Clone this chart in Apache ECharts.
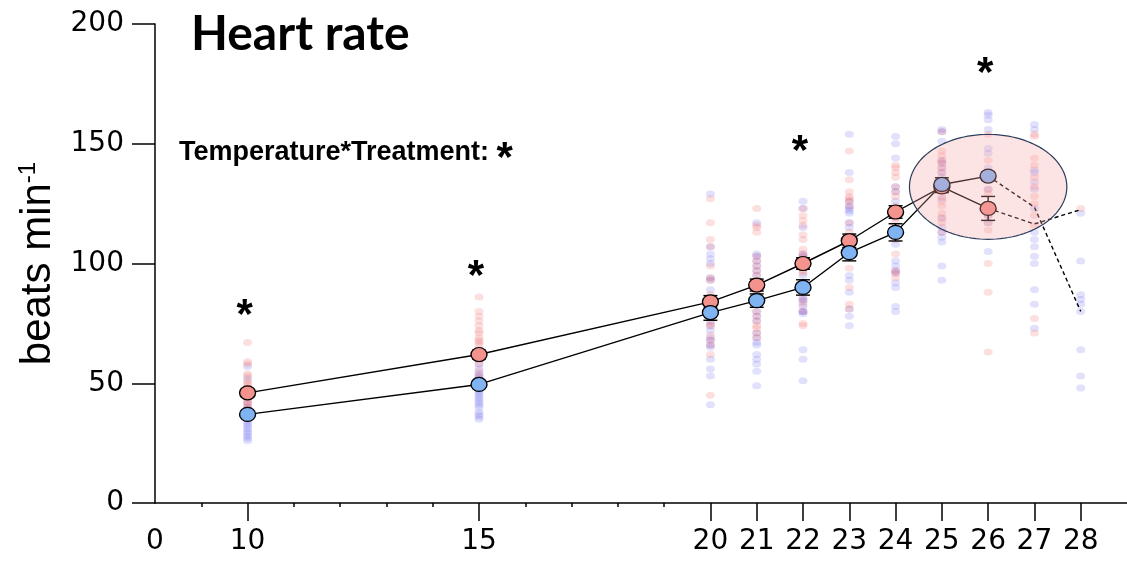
<!DOCTYPE html>
<html><head><meta charset="utf-8">
<script src="https://cdn.jsdelivr.net/npm/echarts@6/dist/echarts.min.js"></script>
<style>html,body{margin:0;padding:0;background:#fff}#c{width:1127px;height:562px}</style>
</head><body><div id="c"></div>
<script>
const temps = [10,15,20,21,22,23,24,25,26];
const redMean = [46,62,84,91,100,109.5,121.5,132,123];
const redSE = [1.6,1.8,2.6,2.5,2.4,2.8,2.6,2.4,5];
const blueMean = [37,49.5,79.5,84.5,90,104.5,113,133,136.5];
const blueSE = [1.3,1.5,3.2,2.8,3.2,3.4,3.6,2.8,1.8];
const dashTemps = [26,27,28];
const redDash = [123,116.5,122.5];
const blueDash = [136.5,123.5,80];
const pointTemps = [10,15,20,21,22,23,24,25,26,27,28];
const redPoints = [
  [67,59,58,54,53,51,50,49,48,47,45,44,43,42,41,40,39],
  [86,80,78,76,74,72,71,69,68,67,66,64,62,60,58,55,53,50],
  [127,117,110,107,99,94,93,87,84,80,78,75,74,70,68,66,62,45],
  [123,116,115,113,103,101,99,97,95,88,86,80,78,76,74,73,71,69],
  [123,120,118,116,112,110,106,104,103,97,96,92,88,85,83,80,75,74],
  [147,135,130,128,127,126,124,117,113,110,105,98,90,83,81],
  [141,140,138,136,132,130,128,124,119,117,110,104,97,96,94],
  [155,147,145,143,142,140,138,128,126,124,121,119,117,113],
  [154,143,131,129,124,120,117,114,100,88,63],
  [154,153,144,141,136,132,128,125,120,116,77,71],
  [123]
];
const bluePoints = [
  [57,52,45,42,40,39,38,37,36,35,34,33,32,31,30,29,28,27,26],
  [62,58,56,54,53,52,51,50,49,48,47,46,45,44,43,42,41,40,38,37,36,35],
  [129,107,104,102,100,94,93,89,84,80,76,74,72,69,68,66,65,60,56,53,41],
  [117,104,103,101,99,97,95,90,84,80,78,76,71,69,67,66,62,60,58,55,49],
  [126,123,115,104,103,100,95,92,90,86,85,84,82,80,80,79,64,60,51],
  [154,138,126,124,123,122,121,117,115,108,105,95,93,88,81,78,74],
  [153,150,144,132,130,126,120,115,112,108,101,99,97,96,92,90,82,80],
  [156,155,151,143,142,140,138,136,127,119,115,113,111,109,99,93],
  [163,162,160,156,148,146,140,136,131,120,117,105],
  [158,156,139,138,134,131,123,113,110,107,103,100,89,83,73],
  [121,101,87,85,83,80,64,53,48]
];
const starTemps = [10,15,22,26];
const starValues = [81.5,98,150,182.5];
const ellipseCenter = [26,132];
const ellipseRadius = [1.7,21.9];
const xLabelValues = [8,10,15,20,21,22,23,24,25,26,27,28];
const xLabelTexts = ['0','10','15','20','21','22','23','24','25','26','27','28'];
const xMajorTicks = [10,15,20,21,22,23,24,25,26,27,28];
const xMinorTicks = [9,11,12,13,14,16,17,18,19];
const yMin = 0, yMax = 200, yStep = 50;

const chart = echarts.init(document.getElementById('c'), null, {renderer:'canvas'});

function flatPts(arr){
  const out = [];
  arr.forEach((col,i)=>col.forEach(v=>out.push([pointTemps[i], v])));
  return out;
}
function errData(mean, se){ return temps.map((t,i)=>[t, mean[i]-se[i], mean[i]+se[i]]); }
function errRender(params, api){
  const x = api.value(0);
  const lo = api.coord([x, api.value(1)]);
  const hi = api.coord([x, api.value(2)]);
  const w = 7;
  const st = {stroke:'#000', lineWidth:1.4};
  return {type:'group', children:[
    {type:'line', shape:{x1:lo[0],y1:lo[1],x2:hi[0],y2:hi[1]}, style:st},
    {type:'line', shape:{x1:lo[0]-w,y1:lo[1],x2:lo[0]+w,y2:lo[1]}, style:st},
    {type:'line', shape:{x1:hi[0]-w,y1:hi[1],x2:hi[0]+w,y2:hi[1]}, style:st}
  ]};
}
const FONT = 'DejaVu Sans';

chart.setOption({
  animation:false,
  backgroundColor:'#fff',
  title:{text:'Heart rate', left:186, top:6, textStyle:{fontFamily:'Lato', fontWeight:'bold', fontSize:48, color:'#000'}},
  graphic:[{type:'text', left:179, top:138, style:{
    text:'{t|Temperature*Treatment: }{s|*}',
    rich:{t:{fontFamily:'Liberation Sans', fontWeight:'bold', fontSize:27, fill:'#000'},
          s:{fontFamily:'Liberation Sans', fontWeight:'bold', fontSize:42, fill:'#000', padding:[13,0,0,0]}}
  }}],
  grid:{left:155, right:0, top:24, bottom:59, containLabel:false},
  xAxis:[{
    type:'value', min:8, max:29, interval:1, position:'bottom',
    axisLine:{show:true, lineStyle:{color:'#000', width:1.5}},
    axisTick:{show:true, customValues:xMajorTicks, length:18, lineStyle:{color:'#000', width:1.5}},
    axisLabel:{show:true, customValues:xLabelValues, margin:25, fontFamily:FONT, fontSize:28, color:'#000',
      formatter:v=>xLabelTexts[xLabelValues.indexOf(v)]},
    splitLine:{show:false}
  },{
    type:'value', min:8, max:29, interval:1, position:'bottom',
    axisLine:{show:false},
    axisTick:{show:true, customValues:xMinorTicks, length:4, lineStyle:{color:'#000', width:1.5}},
    axisLabel:{show:false}, splitLine:{show:false}
  }],
  yAxis:{
    type:'value', min:yMin, max:yMax, interval:yStep,
    name:'{a|beats min}{s|-1}', nameLocation:'middle', nameGap:93, nameRotate:90,
    nameTextStyle:{rich:{a:{fontFamily:'Liberation Sans', fontSize:42, color:'#000'},
                         s:{fontFamily:'Liberation Sans', fontSize:24, color:'#000', padding:[0,0,20,0]}}},
    axisLine:{show:true, lineStyle:{color:'#000', width:1.5}},
    axisTick:{show:true, length:23, lineStyle:{color:'#000', width:1.5}},
    axisLabel:{margin:31, fontFamily:FONT, fontSize:28, color:'#000'},
    splitLine:{show:false}
  },
  series:[
    {type:'scatter', name:'bluePts', data:flatPts(bluePoints), symbol:'circle', symbolSize:[9,7],
     itemStyle:{color:'rgba(80,80,240,0.17)', opacity:1}, z:1, silent:true},
    {type:'scatter', name:'redPts', data:flatPts(redPoints), symbol:'circle', symbolSize:[9,7],
     itemStyle:{color:'rgba(240,70,70,0.17)', opacity:1}, z:1, silent:true},
    {type:'line', data:temps.map((t,i)=>[t,redMean[i]]), symbol:'none', lineStyle:{color:'#000', width:1.4}, z:3, silent:true},
    {type:'line', data:temps.map((t,i)=>[t,blueMean[i]]), symbol:'none', lineStyle:{color:'#000', width:1.4}, z:3, silent:true},
    {type:'line', data:dashTemps.map((t,i)=>[t,redDash[i]]), symbol:'none', lineStyle:{color:'#000', width:1.4, type:[4,3]}, z:3, silent:true},
    {type:'line', data:dashTemps.map((t,i)=>[t,blueDash[i]]), symbol:'none', lineStyle:{color:'#000', width:1.4, type:[4,3]}, z:3, silent:true},
    {type:'custom', data:errData(redMean, redSE), encode:{x:0, y:[1,2]}, renderItem:errRender, z:4, silent:true},
    {type:'custom', data:errData(blueMean, blueSE), encode:{x:0, y:[1,2]}, renderItem:errRender, z:4, silent:true},
    {type:'scatter', data:temps.map((t,i)=>[t,redMean[i]]), symbol:'circle', symbolSize:[16,14],
     itemStyle:{color:'#f4928e', borderColor:'#000', borderWidth:1.3, opacity:1}, z:5, silent:true},
    {type:'scatter', data:temps.map((t,i)=>[t,blueMean[i]]), symbol:'circle', symbolSize:[16,14],
     itemStyle:{color:'#80b3f2', borderColor:'#000', borderWidth:1.3, opacity:1}, z:5, silent:true},
    {type:'custom', data:[ellipseCenter], encode:{x:0, y:1}, z:8, silent:true,
     renderItem:(params, api)=>{
       const c = api.coord([api.value(0), api.value(1)]);
       const p = api.coord([api.value(0)+ellipseRadius[0], api.value(1)+ellipseRadius[1]]);
       const rx = p[0]-c[0], ry = c[1]-p[1];
       const pts = [];
       for(let k=0;k<120;k++){const a=k/120*Math.PI*2; pts.push([c[0]+rx*Math.cos(a), c[1]+ry*Math.sin(a)]);}
       return {type:'polygon', shape:{points:pts}, style:{fill:'rgba(250,165,165,0.3)', stroke:'#2d3e5e', lineWidth:1.2}};
     }},
    {type:'scatter', data:starTemps.map((t,i)=>[t,starValues[i]]), symbol:'circle', symbolSize:1,
     itemStyle:{color:'rgba(0,0,0,0)', opacity:1}, z:9, silent:true,
     label:{show:true, formatter:'*', position:'inside', fontFamily:'Liberation Sans', fontWeight:'bold', fontSize:42, color:'#000', offset:[-3,9]}}
  ]
});
</script></body></html>
